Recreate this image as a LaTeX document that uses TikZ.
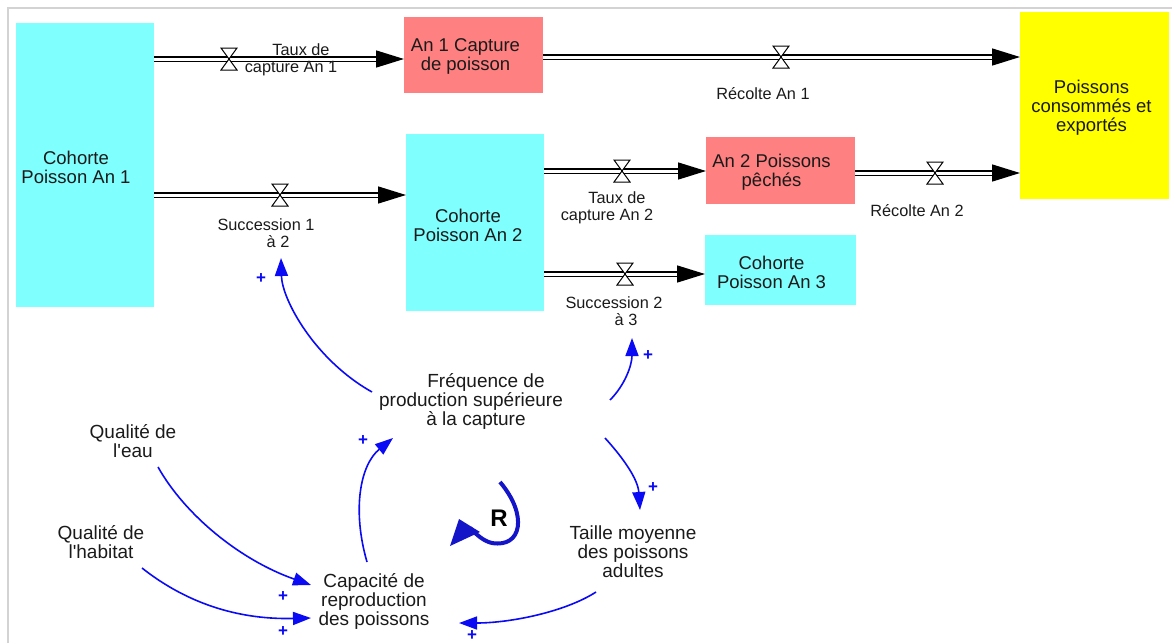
\documentclass[tikz,border=0pt]{standalone}
\usepackage{fontspec}
\setmainfont{Liberation Sans}
\newfontfamily\lsans{Liberation Sans}
\usetikzlibrary{arrows.meta,calc}
\definecolor{stockcyan}{HTML}{80FFFF}
\definecolor{salmon}{HTML}{FF8080}
\definecolor{consyellow}{HTML}{FFFF00}
\definecolor{linkblue}{HTML}{0A0AF5}
\definecolor{loopblue}{HTML}{1414C8}
\definecolor{framegray}{HTML}{D3D3D3}
\definecolor{txt}{HTML}{1A1A1A}
\begin{document}
\begin{tikzpicture}[x=1pt,y=-1pt,
  stockbox/.style={inner sep=0pt, outer sep=0pt},
  boxtext/.style={font=\lsans\fontsize{18.5}{19}\selectfont, align=center, text=txt, inner sep=0pt},
  varname/.style={font=\lsans\fontsize{19}{19}\selectfont, align=center, text=txt, inner sep=2pt},
  flowlabel/.style={font=\lsans\fontsize{16.3}{16.7}\selectfont, align=center, text=txt, inner sep=1pt},
  pipe/.style={draw=black, line width=1.5pt, double=white, double distance=3pt, -{Triangle[length=28pt,width=17pt]}},
  link/.style={draw=linkblue, line width=1.6pt, -{Triangle[length=18pt,width=13pt]}},
  polarity/.style={text=linkblue, font=\lsans\fontsize{17}{17}\selectfont\bfseries, inner sep=0pt},
  valve/.pic={\draw[fill=white,line width=1pt] (-8,-11) -- (8,-11) -- (-8,11) -- (8,11) -- cycle;}
]
\useasboundingbox (0,0) rectangle (1172,643);
\draw[framegray, line width=2pt] (8.3,643) -- (8.3,8.3) -- (1172,8.3);

% stocks
\node[stockbox, fill=stockcyan, minimum width=138pt, minimum height=284pt,
  label={[boxtext,xshift=-9pt,yshift=-2pt]center:Cohorte\\Poisson An 1}] (c1) at (85,165) {};
\node[stockbox, fill=salmon, minimum width=139pt, minimum height=76pt,
  label={[boxtext,xshift=-8pt,yshift=-1pt]center:An 1 Capture\\de poisson}] (an1) at (473.5,55) {};
\node[stockbox, fill=consyellow, minimum width=149pt, minimum height=187pt,
  label={[boxtext,xshift=-3pt,yshift=-2pt]center:Poissons\\consommés et\\exportés}] (cons) at (1094.5,105.5) {};
\node[stockbox, fill=stockcyan, minimum width=138pt, minimum height=177pt,
  label={[boxtext,xshift=-7pt,yshift=-3pt]center:Cohorte\\Poisson An 2}] (c2) at (475,222) {};
\node[stockbox, fill=salmon, minimum width=149pt, minimum height=67pt,
  label={[boxtext,xshift=-9pt,yshift=-2pt]center:An 2 Poissons\\pêchés}] (an2) at (780.5,170.5) {};
\node[stockbox, fill=stockcyan, minimum width=151pt, minimum height=70pt,
  label={[boxtext,xshift=-9pt,yshift=-2pt]center:Cohorte\\Poisson An 3}] (c3) at (780.5,270) {};

% valves
\coordinate (v1) at (229,59);
\coordinate (v2) at (781,57);
\coordinate (v3) at (280,195);
\coordinate (v4) at (622,171);
\coordinate (v5) at (935,173);
\coordinate (v6) at (625,274);

% pipes
\draw[pipe] (c1.east |- v1) -- (an1.west |- v1);
\draw[pipe] (an1.east |- v2) -- (cons.west |- v2);
\draw[pipe] (c1.east |- v3) -- (c2.west |- v3);
\draw[pipe] (c2.east |- v4) -- (an2.west |- v4);
\draw[pipe] (an2.east |- v5) -- (cons.west |- v5);
\draw[pipe] (c2.east |- v6) -- (c3.west |- v6);

\foreach \v in {v1,v2,v3,v4,v5,v6} \pic at (\v) {valve};

% flow labels
\node[flowlabel] (l1) at (291,60) {\hspace*{20pt}Taux de\\capture An 1};
\node[flowlabel] (l2) at (763,94) {Récolte An 1};
\node[flowlabel] (l3) at (266,233) {Succession 1\\\hspace*{24pt}à 2};
\node[flowlabel] (l4) at (607,208) {\hspace*{20pt}Taux de\\capture An 2};
\node[flowlabel] (l5) at (917,211) {Récolte An 2};
\node[flowlabel] (l6) at (614,311) {Succession 2\\\hspace*{24pt}à 3};

% auxiliary variables
\node[varname] (freq) at (471,401) {\hspace*{30pt}Fréquence de\\production supérieure\\\hspace*{10pt}à la capture};
\node[varname] (eau) at (133,441) {Qualité de\\l'eau};
\node[varname] (hab) at (101,542) {Qualité de\\l'habitat};
\node[varname] (cap) at (374,601) {Capacité de\\reproduction\\des poissons};
\node[varname] (taille) at (633,552) {Taille moyenne\\des poissons\\adultes};

% causal links
\draw[link] ([shift={(-99,-9)}]freq.center) .. controls (315,360) and (282,300) .. ([shift={(15,25)}]l3.center);
\draw[link] ([shift={(139,-1)}]freq.center) .. controls (625,385) and (632,365) .. ([shift={(18,27)}]l6.center);
\draw[link] ([shift={(134,37)}]freq.center) .. controls (625,460) and (638,480) .. ([shift={(7,-42)}]taille.center);
\draw[link] ([shift={(-7,-39)}]cap.center) .. controls (352,510) and (360,465) .. ([shift={(-78,37)}]freq.center);
\draw[link] ([shift={(-37,40)}]taille.center) .. controls (565,612) and (510,623) .. ([shift={(85,22)}]cap.center);
\draw[link] ([shift={(25,26)}]eau.center) .. controls (185,515) and (240,560) .. ([shift={(-63,-16)}]cap.center);
\draw[link] ([shift={(41,26)}]hab.center) .. controls (180,598) and (230,620) .. ([shift={(-63,17)}]cap.center);

% polarities
\node[polarity] (p1) at (261,279) {+};
\node[polarity] (p2) at (648,356) {+};
\node[polarity] (p3) at (653,488) {+};
\node[polarity] (p4) at (363,441) {+};
\node[polarity] (p5) at (472,636) {+};
\node[polarity] (p6) at (283,597) {+};
\node[polarity] (p7) at (283,632) {+};

% loop symbol
\node[font=\lsans\fontsize{24}{24}\selectfont\bfseries, text=black, inner sep=0pt] (loopR) at (499,518) {R};
\draw[loopblue, line width=4pt] (500,482) .. controls (528,515) and (522,548) .. (492,543)
  .. controls (483,541) and (476,534) .. (470,528);
\fill[loopblue] (450,546) -- (459,519) -- (480,532) -- cycle;
\end{tikzpicture}
\end{document}
